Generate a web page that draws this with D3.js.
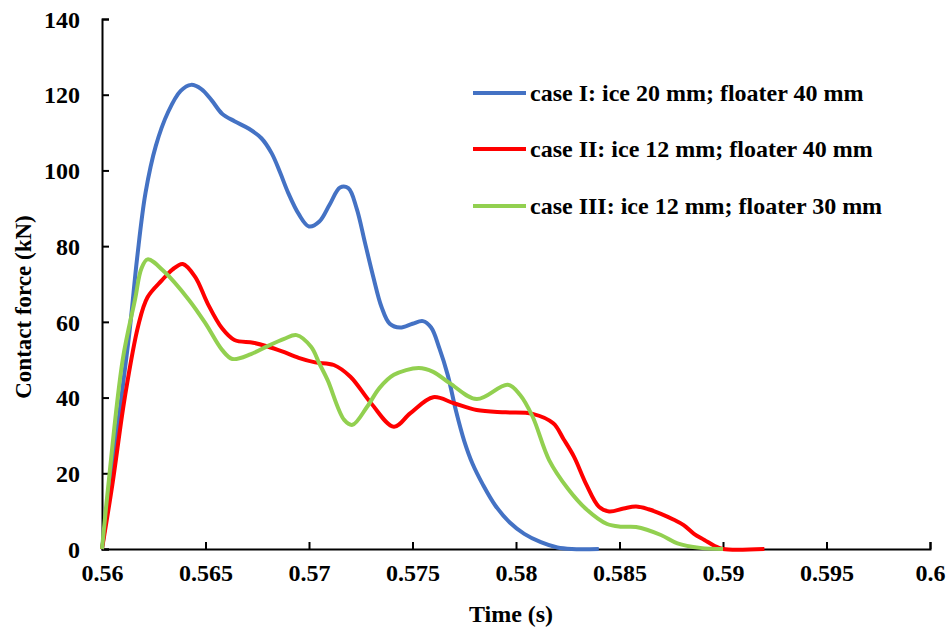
<!DOCTYPE html>
<html>
<head>
<meta charset="utf-8">
<script src="https://cdn.jsdelivr.net/npm/d3@7"></script>
<style>
  html, body { margin: 0; padding: 0; background: #fff; }
  svg { display: block; }
  text { font-family: "Liberation Serif", "Times New Roman", serif; font-weight: bold; fill: #000; }
</style>
</head>
<body>
<svg id="chart" width="946" height="629"></svg>
<script>
// Contact force histories (time in s, force in kN)
const seriesNames = [
  "case I: ice 20 mm; floater 40 mm",
  "case II: ice 12 mm; floater 40 mm",
  "case III: ice 12 mm; floater 30 mm"
];
const seriesColors = ["#4472C4", "#FF0000", "#92D050"];

const caseITime  = [0.56, 0.5613, 0.5617, 0.5621, 0.5626, 0.5632, 0.5638, 0.5643, 0.5648, 0.5653, 0.5658, 0.5664, 0.5671, 0.5677, 0.5682, 0.5686, 0.569, 0.5695, 0.57, 0.5705, 0.571, 0.5715, 0.5719, 0.5723, 0.5727, 0.5731, 0.5735, 0.5739, 0.5744, 0.575, 0.5755, 0.5759, 0.5763, 0.5767, 0.5771, 0.5775, 0.5779, 0.5784, 0.579, 0.5797, 0.5804, 0.5812, 0.582, 0.5827, 0.584];
const caseIForce = [0, 56, 77, 94, 106.5, 115.5, 121, 122.6, 121.5, 118.5, 115, 113, 111, 108.5, 104.5, 99.5, 94, 88.5, 85.2, 86.5, 91, 95.5, 95.3, 90, 81, 72, 64, 59.5, 58.5, 59.5, 60.2, 58.5, 53, 46, 36.5, 28.5, 22.5, 17, 11.5, 7, 4, 1.8, 0.4, 0, 0];

const caseIITime  = [0.56, 0.5605, 0.5611, 0.56175, 0.5622, 0.5629, 0.5634, 0.5639, 0.5645, 0.5651, 0.5658, 0.5664, 0.5673, 0.568, 0.5687, 0.5695, 0.5703, 0.5712, 0.572, 0.573, 0.5741, 0.5749, 0.576, 0.577, 0.5781, 0.5795, 0.5808, 0.5818, 0.5823, 0.5828, 0.5834, 0.584, 0.5845, 0.5852, 0.5858, 0.5864, 0.587, 0.5876, 0.5881, 0.5886, 0.5891, 0.5896, 0.59, 0.592];
const caseIIForce = [0, 17, 40, 59, 66.5, 71, 73.8, 75.3, 71.9, 64.9, 58.3, 55.2, 54.5, 53.5, 52.2, 50.5, 49.3, 48.6, 45.5, 38.5, 32.3, 35.9, 40.1, 38.5, 36.7, 36.1, 35.7, 33.2, 29, 24.4, 17, 11.2, 9.9, 10.7, 11.2, 10.5, 9.3, 7.8, 6.3, 4, 2.4, 0.8, 0, 0];

const caseIIITime  = [0.56, 0.5603, 0.561, 0.5616, 0.5619, 0.5622, 0.563, 0.5642, 0.565, 0.5658, 0.5663, 0.5672, 0.568, 0.5688, 0.5694, 0.5701, 0.5705, 0.5709, 0.5717, 0.5721, 0.5728, 0.5734, 0.5741, 0.5753, 0.576, 0.5768, 0.5781, 0.5796, 0.5802, 0.5808, 0.5816, 0.5825, 0.5834, 0.5844, 0.5851, 0.5858, 0.587, 0.5878, 0.5889, 0.59];
const caseIIIForce = [0, 16.5, 50, 66, 74, 76.5, 73.3, 65.8, 59.6, 52.6, 50.2, 51.5, 53.6, 55.5, 56.5, 53.4, 49, 44.6, 34.1, 32.8, 37.5, 42.5, 46, 47.8, 46.8, 43.8, 39.6, 43.4, 40.7, 35, 23.5, 16, 10.5, 6.6, 5.9, 5.8, 3.7, 1.5, 0.3, 0];

const xTicks = [0.56, 0.565, 0.57, 0.575, 0.58, 0.585, 0.59, 0.595, 0.6];
const yTicks = [0, 20, 40, 60, 80, 100, 120, 140];
const xTitle = "Time (s)";
const yTitle = "Contact force (kN)";

const series = [
  { name: seriesNames[0], color: seriesColors[0], t: caseITime, f: caseIForce },
  { name: seriesNames[1], color: seriesColors[1], t: caseIITime, f: caseIIForce },
  { name: seriesNames[2], color: seriesColors[2], t: caseIIITime, f: caseIIIForce }
];

const svg = d3.select("#chart");
const plot = { left: 102, right: 930, top: 19, bottom: 549 };

const x = d3.scaleLinear().domain([0.56, 0.6]).range([plot.left, plot.right]);
const y = d3.scaleLinear().domain([0, 140]).range([plot.bottom, plot.top]);

// Axes with inward ticks
const xAxis = d3.axisBottom(x).tickValues(xTicks).tickSize(-7).tickPadding(18)
  .tickFormat(d => d3.format("")(+d.toFixed(3)));
const yAxis = d3.axisLeft(y).tickValues(yTicks).tickSize(-7).tickPadding(22);

const gx = svg.append("g").attr("transform", `translate(0,${plot.bottom})`).call(xAxis);
const gy = svg.append("g").attr("transform", `translate(${plot.left},0)`).call(yAxis);

[gx, gy].forEach(g => {
  g.select(".domain").attr("stroke", "#000").attr("stroke-width", 2);
  g.selectAll(".tick line").attr("stroke", "#000").attr("stroke-width", 2);
  g.selectAll(".tick text").attr("font-size", 24).attr("font-family", "Liberation Serif")
    .attr("font-weight", "bold").attr("fill", "#000");
});
gy.selectAll(".tick text").attr("dy", "0.34em");
gx.selectAll(".tick text").attr("dy", "0.6em");

// Axis titles
svg.append("text").attr("x", 511).attr("y", 622).attr("text-anchor", "middle")
  .attr("font-size", 24).text(xTitle);
svg.append("text").attr("transform", "translate(31,307) rotate(-90)")
  .attr("text-anchor", "middle").attr("font-size", 23).text(yTitle);

// Smoothed force curves
const line = d3.line()
  .x(d => x(d[0]))
  .y(d => y(d[1]))
  .curve(d3.curveCatmullRom.alpha(0.5));

series.forEach(s => {
  const pts = s.t.map((t, i) => [t, s.f[i]]);
  svg.append("path").datum(pts)
    .attr("fill", "none")
    .attr("stroke", s.color)
    .attr("stroke-width", 4)
    .attr("stroke-linejoin", "round")
    .attr("d", line);
});

// Legend
const legendY = [93, 149, 206];
series.forEach((s, i) => {
  const g = svg.append("g").attr("transform", `translate(473,${legendY[i]})`);
  g.append("line").attr("x1", 0).attr("x2", 53).attr("y1", 0).attr("y2", 0)
    .attr("stroke", s.color).attr("stroke-width", 4);
  g.append("text").attr("x", 57).attr("y", 0).attr("dy", "0.33em")
    .attr("font-size", 24).text(s.name);
});
</script>
</body>
</html>
